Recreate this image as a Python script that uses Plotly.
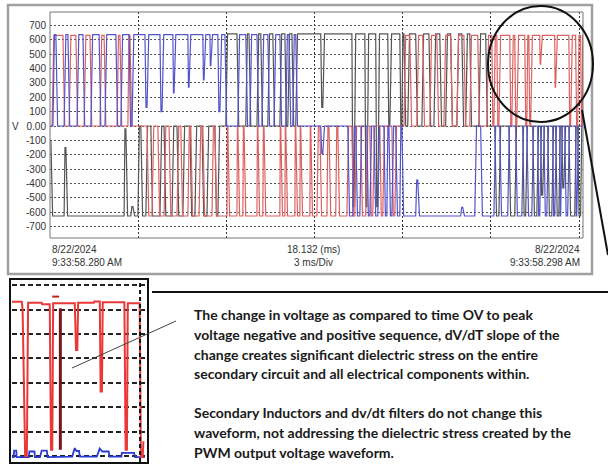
import plotly.graph_objects as go

# ---------------- DATA ----------------
# Main scope window: time in ms (0 .. 18.132 ms, 3 ms/Div), voltage in V
t_span_ms = 18.132
grid_ms = [3.0, 6.0, 9.0, 12.0, 15.0, 18.0]
y_ticks = [-700, -600, -500, -400, -300, -200, -100, 0, 100, 200, 300, 400, 500, 600, 700]
y_ticktext = ["-700", "-600", "-500", "-400", "-300", "-200", "-100", "0.00",
              "100", "200", "300", "400", "500", "600", "700"]

# Switching events: at time t the channel moves to level v
black_v0 = -100
black_t = [0.03, 0.48, 0.54, 2.52, 2.58, 2.75, 2.82,
           2.99, 3.09, 3.26, 3.43, 3.74, 3.88, 4.15, 4.32, 4.52, 4.76, 4.93, 5.17, 5.34, 5.61, 5.71,
           5.98, 6.36, 6.66, 6.77, 7.04, 7.17, 7.41, 7.58, 7.82, 7.99, 8.09, 8.23, 8.36,
           9.21, 9.28, 10.27, 10.34, 10.71, 10.78, 11.08, 11.15, 11.49, 11.56,
           11.90, 11.97, 12.04, 12.17, 12.44, 12.65, 12.89, 13.06, 13.26, 13.46, 13.63, 13.84,
           14.01, 14.14, 14.28, 14.59, 14.82,
           15.13, 15.27, 15.61, 15.81, 16.08, 16.18, 16.42, 16.56, 16.69, 16.76, 16.93, 17.07,
           17.20, 17.31, 17.41, 17.48, 17.65, 17.85, 17.95, 18.05]
black_v = [-625, -150, -625, -20, -625, -560, -625,
           0, -625, 0, -625, 0, -625, 0, -625, 0, -625, 0, -625, 0, -625, 0,
           640, 0, 640, 0, 640, 0, 640, 0, 640, 0, 640, 0, 640,
           130, 640, -560, 640, -560, 640, -560, 640, 0, 640,
           0, 640, 0, 640, 0, 640, 0, 640, 0, 640, 0, 640,
           0, 640, 0, 640, 0,
           -625, 0, -625, 0, -625, 0, -625, 0, -480, 0, -625, 0,
           -625, 0, -430, 0, -625, 0, -625, 0]

red_v0 = 0
red_t = [0.07, 0.44, 0.65, 0.88, 1.16, 1.36, 1.70, 1.84, 2.28, 2.38, 2.65, 2.72,
         3.30, 3.47, 3.67, 3.88, 4.05, 4.32, 4.45, 4.69, 4.79, 5.07, 5.20, 5.51, 5.61,
         6.02, 6.05, 6.36, 6.39, 6.56, 6.60, 7.04, 7.07, 7.24, 7.28, 7.82, 7.85,
         7.99, 8.02, 8.33, 8.36, 8.50, 8.53, 8.84, 8.87, 9.08,
         9.18, 9.42, 9.49, 9.72, 9.79, 10.10, 10.27, 10.37, 10.57, 10.74, 10.88, 10.98,
         11.22, 11.32, 11.63, 11.73,
         12.04, 12.24, 12.48, 12.68, 12.92, 13.16, 13.40, 13.63, 13.84, 14.08, 14.28, 14.55, 14.86,
         15.03, 15.10, 15.20, 15.27, 15.64, 15.71, 15.81, 15.88, 16.15, 16.22, 16.29, 16.35,
         16.66, 16.69, 17.17, 17.20, 17.65, 17.71, 17.88, 17.95, 18.05, 18.11]
red_v = [630, 0, 630, 0, 630, 0, 630, 0, 630, 0, 630, 0,
         -625, 0, -625, 0, -625, 0, -625, 0, -625, 0, -625, 0, -625,
         0, -625, 0, -625, 0, -625, 0, -625, 0, -625, 0, -625,
         0, -625, 0, -625, 0, -625, 0, -625, 0,
         -625, 0, -625, 0, -625, 0, -625, 0, -625, 0, -625, 0,
         -625, 0, -625, 0,
         630, 0, 630, 0, 630, 0, 630, 0, 630, 0, 630, 0, 630,
         0, 630, 0, 630, 0, 630, 0, 630, 0, 630, 0, 630,
         430, 630, 270, 630, 0, 630, 0, 630, 0, 630]

blue_v0 = 0
blue_t = [0.10, 0.20, 0.48, 0.61, 0.92, 1.12, 1.39, 1.67, 1.87, 2.24, 2.41, 2.69, 2.79,
          3.23, 3.30, 3.74, 3.81, 4.18, 4.22, 4.69, 4.73, 5.20, 5.24, 5.44, 5.47, 5.71, 5.78,
          5.95, 6.39, 6.66, 6.80, 7.04, 7.21, 7.41, 7.62, 7.82, 8.02, 8.13, 8.26, 8.36,
          9.21, 9.28, 10.13, 10.30, 10.40, 10.54, 10.78, 10.88, 11.02, 11.15, 11.36, 11.46,
          11.53, 11.63, 11.76, 11.90, 11.97,
          12.44, 12.51, 13.97, 14.04,
          14.45, 14.65, 15.10, 15.30, 15.57, 15.84, 16.05, 16.22, 16.39, 16.59, 16.66, 16.80,
          16.90, 17.10, 17.17, 17.34, 17.37, 17.51, 17.61, 17.88, 17.92]
blue_v = [635, 0, 635, 0, 635, 0, 635, 0, 635, 0, 635, 0, 635,
          130, 635, 100, 635, 230, 635, 270, 635, 320, 635, 420, 635, 100, 635,
          0, 635, 0, 635, 0, 635, 0, 635, 0, 635, 0, 635, 0,
          -190, 0, -625, 0, -625, 0, -625, 0, -625, 0, -625, 0,
          -625, 0, -625, 0, -625,
          -375, -625, -565, -625,
          0, -625, 0, -625, 0, -625, 0, -625, 0, -625, 0, -625,
          0, -625, 0, -625, 0, -625, 0, -625, 0]

# Inset (zoom on the circled part of the red trace)
inset_grid = [0, 100, 200, 300, 400, 500, 600, 700]
inset_red_t = [15.02, 15.25, 15.27, 15.33, 15.37, 15.40, 15.72, 15.73, 15.91, 15.94, 15.97, 15.99,
               16.50, 16.53, 16.56, 16.58, 16.95, 16.96, 17.09, 17.11, 17.14, 17.16,
               17.67, 17.70, 17.73, 17.75, 18.03, 18.06, 18.10, 18.12]
inset_red_v = [632, 632, 600, 0, 0, 628, 628, 622, 622, 25, 25, 626,
               626, 434, 434, 628, 628, 633, 633, 264, 264, 630,
               630, 25, 25, 626, 626, -5, -5, 60]
inset_dark_t = [16.16, 16.16]
inset_dark_v = [605, 25]
inset_mark_t = [15.97, 16.13]
inset_mark_v = [653, 653]
inset_blue_t = [15.02, 15.06, 15.07, 15.12, 15.13, 15.42, 15.43, 15.55, 15.56, 15.68, 15.72, 15.84,
                15.86, 16.44, 16.50, 16.54, 16.60, 16.62, 17.02, 17.09, 17.15, 17.30, 17.32,
                17.60, 17.61, 17.90, 17.92, 18.15]
inset_blue_v = [-5, -5, 22, 22, -5, -5, 18, 18, -5, -5, 22, 22,
                -5, -3, 32, 20, 20, -3, -3, 30, 18, 18, -3,
                -3, 12, 12, -5, -5]

start_date = "8/22/2024"
start_time = "9:33:58.280 AM"
end_time = "9:33:58.298 AM"
span_label = "18.132 (ms)"
div_label = "3 ms/Div"

note_lines = [
    "The change in voltage as compared to time OV to peak",
    "voltage negative and positive sequence, dV/dT slope of the",
    "change creates significant dielectric stress on the entire",
    "secondary circuit and all electrical components within.",
    "Secondary Inductors and dv/dt filters do not change this",
    "waveform, not addressing the dielectric stress created by the",
    "PWM output voltage waveform.",
]

# ---------------- BUILD ----------------
W, H = 608, 464


def X(px):
    return px / W


def Y(py):
    return 1 - py / H


def steps(ts, vs, v0, t0, t1, ramp=0.06):
    xs, ys, prev = [t0], [v0], v0
    for i, (t, v) in enumerate(zip(ts, vs)):
        nxt = ts[i + 1] if i + 1 < len(ts) else t1
        r = min(ramp, (nxt - t) / 2)
        xs += [t, t + r]
        ys += [prev, v]
        prev = v
    xs.append(t1)
    ys.append(prev)
    return xs, ys


fig = go.Figure()
for ts, vs, v0, col in [(black_t, black_v, black_v0, "rgb(85,85,85)"),
                        (red_t, red_v, red_v0, "rgb(222,98,98)"),
                        (blue_t, blue_v, blue_v0, "rgb(84,84,205)")]:
    xs, ys = steps(ts, vs, v0, 0, t_span_ms)
    fig.add_trace(go.Scatter(x=xs, y=ys, mode="lines", line=dict(color=col, width=1.2),
                             hoverinfo="skip", showlegend=False, xaxis="x", yaxis="y"))

fig.add_trace(go.Scatter(x=inset_blue_t, y=inset_blue_v, mode="lines",
                         line=dict(color="rgb(40,60,210)", width=1.8),
                         showlegend=False, xaxis="x2", yaxis="y2"))
fig.add_trace(go.Scatter(x=inset_red_t, y=inset_red_v, mode="lines",
                         line=dict(color="rgb(235,55,55)", width=2),
                         showlegend=False, xaxis="x2", yaxis="y2"))
fig.add_trace(go.Scatter(x=inset_dark_t, y=inset_dark_v, mode="lines",
                         line=dict(color="rgb(120,20,30)", width=3),
                         showlegend=False, xaxis="x2", yaxis="y2"))
fig.add_trace(go.Scatter(x=inset_mark_t, y=inset_mark_v, mode="lines",
                         line=dict(color="rgb(200,30,30)", width=2),
                         showlegend=False, xaxis="x2", yaxis="y2"))

tick_font = dict(family="Liberation Sans, Arial", size=10, color="#333")

fig.update_layout(
    width=W, height=H, margin=dict(l=0, r=0, t=0, b=0),
    paper_bgcolor="white", plot_bgcolor="white", showlegend=False,
    xaxis=dict(domain=[X(50), X(583)], range=[0, t_span_ms], tickvals=grid_ms,
               showticklabels=False, ticks="", showgrid=True, gridcolor="#333",
               griddash="2px,2px", gridwidth=1, zeroline=False, showline=False),
    yaxis=dict(domain=[Y(238), Y(12)], range=[-778, 792], tickvals=y_ticks,
               ticktext=y_ticktext, tickfont=tick_font, ticks="", ticklabelstandoff=3,
               showgrid=True, gridcolor="#555", griddash="2px,2px", gridwidth=1,
               zeroline=False, showline=False),
    xaxis2=dict(domain=[X(12), X(146)], range=[15.02, 18.18], showticklabels=False,
                ticks="", showgrid=False, zeroline=False, showline=False, anchor="y2"),
    yaxis2=dict(domain=[Y(462), Y(281)], range=[-25, 717], tickvals=inset_grid,
                showticklabels=False, ticks="", showgrid=True, gridcolor="#222",
                griddash="5px,3px", gridwidth=1.5, zeroline=False, showline=False,
                anchor="x2"),
)

shapes = [
    dict(type="rect", xref="paper", yref="paper", x0=X(8), x1=X(592), y0=Y(274), y1=Y(5),
         line=dict(color="#a0a0a0", width=2.5)),
    dict(type="rect", xref="paper", yref="paper", x0=X(50), x1=X(583), y0=Y(238), y1=Y(12),
         line=dict(color="#777", width=1)),
    dict(type="circle", xref="paper", yref="paper", x0=X(488), x1=X(593), y0=Y(122), y1=Y(6),
         line=dict(color="#111", width=2)),
    dict(type="line", xref="paper", yref="paper", x0=X(582), y0=Y(110), x1=X(608), y1=Y(255),
         line=dict(color="#111", width=2)),
    dict(type="line", xref="paper", yref="paper", x0=X(152), y0=Y(292), x1=X(608), y1=Y(292),
         line=dict(color="#111", width=2)),
    dict(type="rect", xref="paper", yref="paper", x0=X(10), x1=X(148), y0=Y(463), y1=Y(279),
         line=dict(color="#111", width=2)),
    dict(type="line", xref="x2", yref="paper", x0=18.04, x1=18.04, y0=Y(462), y1=Y(281),
         line=dict(color="#111", width=2, dash="4px,3px")),
    dict(type="line", xref="paper", yref="paper", x0=X(72), y0=Y(368), x1=X(176), y1=Y(321),
         line=dict(color="#444", width=1)),
]
fig.update_layout(shapes=shapes)

ann = []
small = dict(family="Liberation Sans, Arial", size=10, color="#333")
ann.append(dict(text="V", x=X(15), y=Y(126), xanchor="center"))
ann.append(dict(text=start_date, x=X(50), y=Y(249), xanchor="left"))
ann.append(dict(text=start_time, x=X(50), y=Y(262), xanchor="left"))
ann.append(dict(text=span_label, x=X(313), y=Y(249), xanchor="center"))
ann.append(dict(text=div_label, x=X(313), y=Y(262), xanchor="center"))
ann.append(dict(text=start_date, x=X(582), y=Y(249), xanchor="right"))
ann.append(dict(text=end_time, x=X(582), y=Y(262), xanchor="right"))
for a in ann:
    a.update(xref="paper", yref="paper", showarrow=False, font=small, yanchor="middle")

note_y = [314, 334, 354, 373, 412, 432, 452]
for txt, py in zip(note_lines, note_y):
    ann.append(dict(text="<b>" + txt + "</b>", x=X(192), y=Y(py), xref="paper", yref="paper",
                    showarrow=False, xanchor="left", yanchor="middle",
                    font=dict(family="Lato, Open Sans, sans-serif", size=14, color="#1a1a1a")))
fig.update_layout(annotations=ann)

fig.write_html("out.html", config={"displayModeBar": False},
               post_script="document.body.style.margin='0px';")
